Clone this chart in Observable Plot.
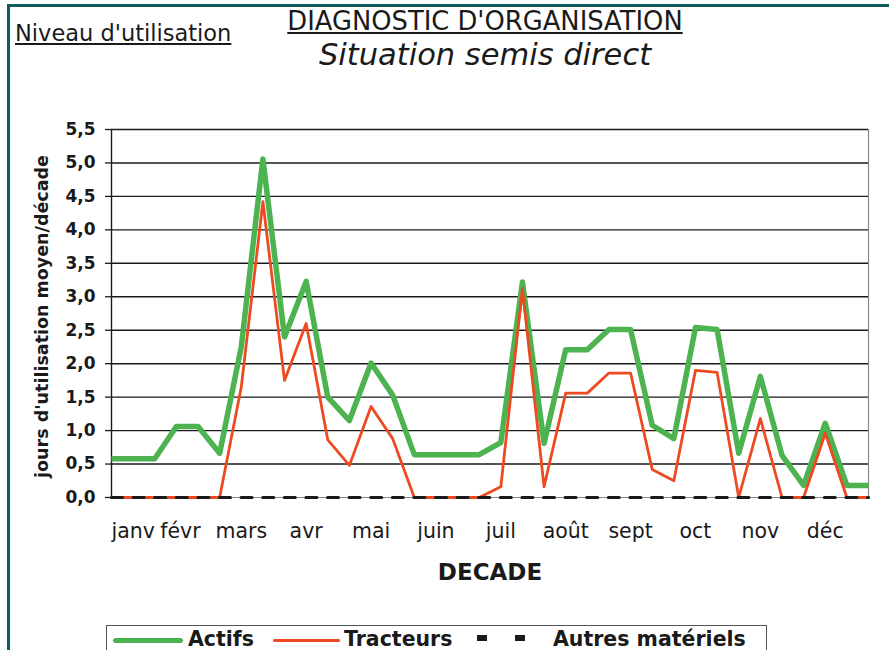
<!DOCTYPE html>
<html>
<head>
<meta charset="utf-8">
<script src="https://cdn.jsdelivr.net/npm/d3@7"></script>
<script src="https://cdn.jsdelivr.net/npm/@observablehq/plot@0.6"></script>
<style>
  html, body { margin: 0; padding: 0; background: #fff; }
  #page { position: relative; width: 889px; height: 650px; overflow: hidden; background: #fff; font-family: "DejaVu Sans", sans-serif; color: #1a1a1a; }
  #frame { position: absolute; left: 7px; top: 4px; width: 900px; height: 700px; border-left: 3px solid #0f5b5b; border-top: 3px solid #0f5b5b; }
  .t { position: absolute; white-space: nowrap; line-height: 1; }
  #chart { position: absolute; left: 0; top: 90px; }
  #legend { position: absolute; left: 106px; top: 625px; width: 659px; height: 40px; border: 1.5px solid #555; background: #fff; }
  .sw { position: absolute; }
  .lt { position: absolute; white-space: nowrap; line-height: 1; font-weight: bold; font-size: 20.5px; color: #1a1a1a; }
</style>
</head>
<body>
<div id="page">
  <div id="frame"></div>
  <div class="t" style="left:15px; top:22px; font-size:22.5px; text-decoration: underline;">Niveau d'utilisation</div>
  <div class="t" style="left:485px; top:9px; transform: translateX(-50%); font-size:25.8px; text-decoration: underline;">DIAGNOSTIC D'ORGANISATION</div>
  <div class="t" style="left:485px; top:40px; transform: translateX(-50%); font-size:30.5px; font-style: italic;">Situation semis direct</div>
  <div id="chart"></div>
  <div id="legend">
    <div class="sw" style="left:6px; top:12px; width:70px; height:5px; border-radius:3px; background:#4cb350;"></div>
    <div class="lt" style="left:81px; top:3px;">Actifs</div>
    <div class="sw" style="left:166px; top:13px; width:67px; height:3px; border-radius:2px; background:#ee4a22;"></div>
    <div class="lt" style="left:237px; top:3px;">Tracteurs</div>
    <div class="sw" style="left:370px; top:9px; width:10px; height:6px; background:#1a1a1a;"></div>
    <div class="sw" style="left:408px; top:9px; width:10px; height:6px; background:#1a1a1a;"></div>
    <div class="lt" style="left:446px; top:3px;">Autres matériels</div>
  </div>
</div>
<script>
// Decades (3 per month, 36 in the year)
const decades = [0,1,2,3,4,5,6,7,8,9,10,11,12,13,14,15,16,17,18,19,20,21,22,23,24,25,26,27,28,29,30,31,32,33,34,35];
const actifs = [0.58,0.58,0.58,1.06,1.06,0.66,2.25,5.06,2.40,3.23,1.50,1.15,2.01,1.53,0.64,0.64,0.64,0.64,0.82,3.22,0.81,2.21,2.21,2.51,2.51,1.08,0.88,2.54,2.51,0.66,1.81,0.63,0.18,1.11,0.18,0.18];
const tracteurs = [0,0,0,0,0,0,1.65,4.42,1.75,2.60,0.86,0.48,1.36,0.88,0,0,0,0,0.16,3.12,0.16,1.56,1.56,1.86,1.86,0.42,0.25,1.90,1.87,0,1.18,0,0,0.96,0,0];
const autres = [0,0,0,0,0,0,0,0,0,0,0,0,0,0,0,0,0,0,0,0,0,0,0,0,0,0,0,0,0,0,0,0,0,0,0,0];
const monthNames = ["janv","févr","mars","avr","mai","juin","juil","août","sept","oct","nov","déc"];
const monthTicks = [0,3,6,9,12,15,18,21,24,27,30,33];
const yTicks = [0,0.5,1,1.5,2,2.5,3,3.5,4,4.5,5,5.5];
const yTitle = "jours d'utilisation moyen/décade";
const xTitle = "DECADE";

const rows = (vals) => decades.map((d, i) => ({decade: d, value: vals[i]}));
const fmtY = d => d.toFixed(1).replace(".", ",");
const monthLabel = d => monthNames[monthTicks.indexOf(d)];
const monthAxis = {tickFormat: monthLabel, tickSize: 0, tickPadding: 26, fontSize: 20.5, label: null};

const chart = Plot.plot({
  width: 889,
  height: 510,
  marginLeft: 111,
  marginRight: 21,
  marginTop: 39,
  marginBottom: 103,
  style: {fontFamily: "DejaVu Sans, sans-serif", color: "#1a1a1a", background: "transparent", overflow: "visible"},
  x: {domain: [0, 35]},
  y: {domain: [0, 5.5]},
  marks: [
    Plot.ruleY(yTicks.slice(1), {stroke: "#1a1a1a", strokeWidth: 1.4}),
    Plot.ruleY([0], {stroke: "#888", strokeWidth: 1.2}),
    Plot.ruleX([35], {stroke: "#888", strokeWidth: 1.2}),
    Plot.ruleX([0], {stroke: "#1a1a1a", strokeWidth: 1.4}),
    Plot.axisY({ticks: yTicks, tickFormat: fmtY, tickSize: 6, tickPadding: 10, fontSize: 17, fontWeight: "bold", label: null, strokeWidth: 1.3}),
    Plot.axisX({...monthAxis, ticks: monthTicks.slice(2)}),
    Plot.axisX({...monthAxis, ticks: monthTicks.slice(1, 2), dx: 4}),
    Plot.axisX({...monthAxis, ticks: monthTicks.slice(0, 1), textAnchor: "start", dx: 0}),
    Plot.text([xTitle], {frameAnchor: "bottom", dy: 82, fontSize: 23, fontWeight: "bold", fill: "#1a1a1a"}),
    Plot.text([yTitle], {frameAnchor: "left", textAnchor: "middle", rotate: -90, dx: -69, dy: 3, fontSize: 17.5, fontWeight: "bold", fill: "#1a1a1a"}),
    Plot.line(rows(actifs), {x: "decade", y: "value", stroke: "#4cb350", strokeWidth: 5.5, strokeLinejoin: "round", strokeLinecap: "butt"}),
    Plot.line(rows(tracteurs), {x: "decade", y: "value", stroke: "#ee4a22", strokeWidth: 2.8, strokeLinejoin: "round"}),
    Plot.line(rows(autres), {x: "decade", y: "value", stroke: "#1a1a1a", strokeWidth: 3, strokeDasharray: "11,10.6"})
  ]
});
document.getElementById("chart").appendChild(chart);
</script>
</body>
</html>
